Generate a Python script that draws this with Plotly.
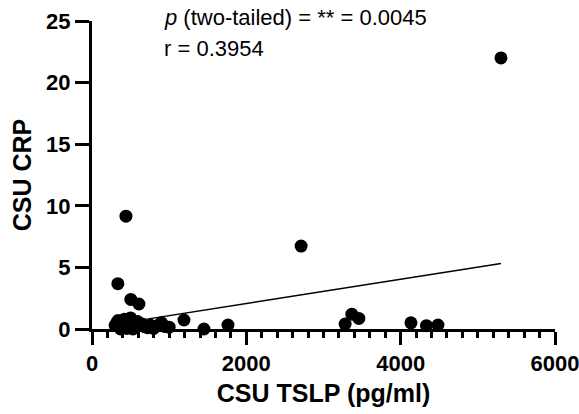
import plotly.graph_objects as go

# Data (CSU TSLP pg/ml vs CSU CRP)
tslp = [5300, 440, 2710, 335, 503, 608, 1192, 1451, 1762, 3280, 3367, 3458, 4133, 4334, 4483,
        300, 320, 340, 360, 380, 400, 420, 440, 460, 480, 500, 520, 540, 560, 590, 620,
        650, 680, 720, 760, 800, 860, 900, 950, 1000, 370, 450, 530]
crp = [22.0, 9.16, 6.73, 3.68, 2.4, 2.03, 0.73, 0.0, 0.32, 0.4, 1.2, 0.86, 0.5, 0.27, 0.32,
       0.3, 0.5, 0.7, 0.2, 0.6, 0.1, 0.8, 0.4, 0.6, 0.3, 0.9, 0.2, 0.5, 0.1, 0.6, 0.3,
       0.4, 0.2, 0.1, 0.3, 0.05, 0.3, 0.5, 0.2, 0.15, 0.0, 0.05, 0.0]

fit_slope = 0.000984
fit_intercept = 0.10
fit_x = [min(tslp), max(tslp)]
fit_y = [fit_intercept + fit_slope * v for v in fit_x]

x_ticks = [0, 2000, 4000, 6000]
y_ticks = [0, 5, 10, 15, 20, 25]

FONT = "Liberation Sans, Arial, sans-serif"

fig = go.Figure()
fig.add_trace(go.Scatter(x=fit_x, y=fit_y, mode="lines",
                         line=dict(color="black", width=1.5),
                         hoverinfo="skip", showlegend=False))
fig.add_trace(go.Scatter(x=tslp, y=crp, mode="markers",
                         marker=dict(color="black", size=13, line=dict(width=0)),
                         cliponaxis=False, showlegend=False))

fig.update_layout(
    width=579, height=414,
    margin=dict(l=92, r=24, t=21, b=85),
    paper_bgcolor="white", plot_bgcolor="white",
    font=dict(family=FONT, color="black"),
    xaxis=dict(range=[0, 6000], tickvals=x_ticks, showgrid=False, zeroline=False,
               automargin=False, ticklabeloverflow="allow",
               showline=True, linecolor="black", linewidth=3,
               ticks="outside", ticklen=13, tickwidth=3, tickcolor="black",
               tickfont=dict(size=22, family=FONT, weight="bold"),
               minor=dict(dtick=200, ticks="outside", ticklen=6, tickwidth=2.5, tickcolor="black"),
               title=dict(text="<b>CSU TSLP (pg/ml)</b>", font=dict(size=25, family=FONT), standoff=10)),
    yaxis=dict(range=[0, 25], tickvals=y_ticks, showgrid=False, zeroline=False,
               automargin=False, ticklabeloverflow="allow",
               showline=True, linecolor="black", linewidth=3,
               ticks="outside", ticklen=14, tickwidth=3, tickcolor="black",
               tickfont=dict(size=22, family=FONT, weight="bold"),
               title=dict(text="<b>CSU CRP</b>", font=dict(size=25, family=FONT), standoff=8)),
)

fig.add_annotation(text="<i>p</i> (two-tailed) = ** = 0.0045", xref="paper", yref="paper",
                   x=(162 - 92) / 463, y=1 - (32 - 21) / 308, xanchor="left", yanchor="bottom",
                   showarrow=False, font=dict(size=22, family=FONT))
fig.add_annotation(text="r = 0.3954", xref="paper", yref="paper",
                   x=(162 - 92) / 463, y=1 - (63 - 21) / 308, xanchor="left", yanchor="bottom",
                   showarrow=False, font=dict(size=22, family=FONT))

fig.write_html("out.html", config={"displayModeBar": False},
               post_script="document.body.style.margin='0';document.body.style.overflow='hidden';")
